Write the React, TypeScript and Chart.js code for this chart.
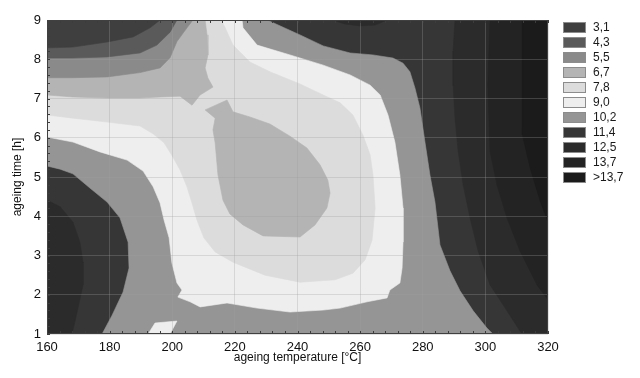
import React, { useEffect, useRef } from 'react';
import { Chart, registerables } from 'chart.js';

Chart.register(...registerables);

// Axis ranges and ticks
const temperatureRange = [160, 320];
const temperatureStep = 20;
const temperatureMinorStep = 4;
const timeRange = [1, 9];
const timeStep = 1;
const timeMinorStep = 0.2;

// Contour levels (legend)
const levelLabels = ['3,1', '4,3', '5,5', '6,7', '7,8', '9,0', '10,2', '11,4', '12,5', '13,7', '>13,7'];
const levelColors = ['#3f3f3f', '#5a5a5a', '#8a8a8a', '#b4b4b4', '#dcdcdc', '#eeeeee', '#959595', '#363636', '#2b2b2b', '#232323', '#1b1b1b'];

// Contour region outlines, [temperature °C, time h]
const wholeField: [number, number][] = [[160, 1], [320, 1], [320, 9], [160, 9]];

const above114Right: [number, number][] = [
  [290.3, 9], [289.7, 8.21], [289.7, 7.34], [290.3, 6.5], [291.3, 5.66], [292.9, 4.8], [295.1, 3.96],
  [297.7, 3.11], [301.5, 2.25], [306.9, 1.59], [311.7, 1], [320, 1], [320, 9],
];
const above114Left: [number, number][] = [
  [160, 4.41], [164.2, 4.24], [168.3, 3.85], [170.5, 3.34], [171.5, 2.83], [171.5, 2.25], [169.9, 1.66], [168.0, 1], [160, 1],
];
const above114Top: [number, number][] = [[251.3, 9], [255.1, 8.9], [259.9, 8.85], [264.7, 8.87], [268.6, 9]];
const above125: [number, number][] = [
  [301.5, 9], [300.8, 7.34], [301.5, 5.66], [303.7, 4.8], [306.9, 3.96], [311.1, 3.11], [316.5, 2.25],
  [320, 1.87], [320, 9],
];
const above137: [number, number][] = [
  [312.0, 9], [311.7, 7.34], [312.0, 6.07], [314.3, 5.23], [317.5, 4.39], [320, 3.85], [320, 9],
];

const below102: [number, number][] = [
  [160, 9], [230.3, 9], [240.8, 8.62], [248.2, 8.34], [256.8, 8.16], [264.1, 8.11], [270.5, 8.03], [273.7, 7.9],
  [275.9, 7.68], [277.5, 7.27], [279.1, 6.76], [280.7, 5.89], [282.3, 5.05], [283.9, 4.36], [285.5, 3.27],
  [288.7, 2.61], [291.9, 2.1], [296.1, 1.59], [300.5, 1.15], [302.4, 1], [177.6, 1], [180.8, 1.48], [184.3, 2.07],
  [186.2, 2.68], [185.9, 3.34], [183.3, 3.96], [179.2, 4.36], [173.7, 4.72], [168.3, 5.08], [164.2, 5.2], [160, 5.28],
];
const below90: [number, number][] = [
  [160, 9], [222.3, 9], [222.6, 8.8], [227.1, 8.36], [237.6, 8.11], [248.2, 7.85], [256.8, 7.6], [263.2, 7.34],
  [266.4, 7.09], [268.9, 6.58], [271.1, 5.89], [272.7, 5.05], [273.7, 4.21], [273.7, 3.34], [273.4, 2.68],
  [272.7, 2.3], [269.5, 2.12], [268.6, 1.92], [262.2, 1.82], [253.6, 1.66], [248.2, 1.61], [237.6, 1.56],
  [227.1, 1.66], [217.5, 1.79], [208.9, 1.69], [205.7, 1.82], [201.8, 1.94], [203.1, 2.12], [201.5, 2.3],
  [199.9, 2.81], [199.0, 3.45], [197.4, 3.9], [196.1, 4.34], [193.9, 4.75], [190.7, 5.15], [185.6, 5.43],
  [176.9, 5.64], [168.3, 5.89], [160, 6.02],
];
const below90Patch: [number, number][] = [[192.3, 1], [194.5, 1.28], [201.5, 1.33], [199.3, 1]];
const below78: [number, number][] = [
  [160, 9], [215.6, 9], [216.9, 8.8], [219.4, 8.36], [224.8, 7.93], [231.2, 7.68], [240.8, 7.37], [248.2, 7.09],
  [253.6, 6.89], [257.7, 6.58], [260.9, 6.07], [263.2, 5.56], [264.1, 5.05], [264.8, 4.21], [263.8, 3.39],
  [261.6, 2.89], [257.7, 2.55], [252.0, 2.38], [240.8, 2.32], [229.6, 2.5], [219.4, 2.83], [213.7, 3.09],
  [210.1, 3.45], [207.9, 3.9], [206.3, 4.34], [204.7, 4.75], [202.5, 5.18], [200.2, 5.51], [197.4, 5.87],
  [193.9, 6.1], [189.7, 6.3], [179.2, 6.4], [168.3, 6.5], [160, 6.58],
];
const below67Left: [number, number][] = [
  [160, 9], [210.5, 9], [211.1, 8.62], [211.4, 8.11], [210.5, 7.78], [211.4, 7.52], [213.0, 7.29], [208.9, 7.09],
  [206.3, 6.83], [202.5, 7.06], [196.1, 7.04], [189.7, 7.01], [179.2, 7.01], [168.3, 7.04], [160, 7.09],
];
const below67Center: [number, number][] = [
  [210.5, 6.71], [217.5, 6.96], [219.4, 6.66], [224.8, 6.53], [231.2, 6.35], [237.6, 6.04], [243.0, 5.74],
  [247.2, 5.31], [249.7, 4.92], [250.4, 4.59], [249.4, 4.21], [245.6, 3.78], [240.8, 3.47], [229.0, 3.5],
  [222.6, 3.78], [218.4, 4.06], [216.2, 4.41], [214.6, 5.05], [213.7, 5.87], [213.0, 6.2], [213.7, 6.5],
];
const below55: [number, number][] = [
  [160, 9], [206.6, 9], [204.7, 8.8], [201.5, 8.45], [199.3, 8.04], [196.1, 7.78], [189.7, 7.66], [179.2, 7.55],
  [168.3, 7.53], [160, 7.53],
];
const below43: [number, number][] = [
  [160, 9], [201.5, 9], [199.3, 8.69], [195.1, 8.36], [189.7, 8.16], [179.2, 8.06], [168.3, 8.03], [160, 8.03],
];
const below31: [number, number][] = [
  [160, 9], [196.1, 9], [192.9, 8.8], [187.5, 8.57], [179.2, 8.44], [168.3, 8.31], [160, 8.29],
];

// painting order (bottom first) with the level index of each region
const layers: { outline: [number, number][]; level: number }[] = [
  { outline: wholeField, level: 7 },
  { outline: above114Right, level: 8 },
  { outline: above114Left, level: 8 },
  { outline: above114Top, level: 8 },
  { outline: above125, level: 9 },
  { outline: above137, level: 10 },
  { outline: below102, level: 6 },
  { outline: below90, level: 5 },
  { outline: below90Patch, level: 5 },
  { outline: below78, level: 4 },
  { outline: below67Left, level: 3 },
  { outline: below67Center, level: 3 },
  { outline: below55, level: 2 },
  { outline: below43, level: 1 },
  { outline: below31, level: 0 },
];

const FONT = "'Liberation Sans', Arial, sans-serif";

const decorations = {
  id: 'decorations',
  afterDraw(chart: any) {
    const { ctx, chartArea: a, scales } = chart;
    const x = scales.x;
    const y = scales.y;
    ctx.save();
    ctx.strokeStyle = '#3c3c3c';
    ctx.lineWidth = 1;
    ctx.beginPath();
    const nx = Math.round((temperatureRange[1] - temperatureRange[0]) / temperatureMinorStep);
    for (let i = 0; i <= nx; i++) {
      const px = Math.round(x.getPixelForValue(temperatureRange[0] + i * temperatureMinorStep)) + 0.5;
      ctx.moveTo(px, a.top);
      ctx.lineTo(px, a.top + 3);
      ctx.moveTo(px, a.bottom);
      ctx.lineTo(px, a.bottom - 3);
    }
    const ny = Math.round((timeRange[1] - timeRange[0]) / timeMinorStep);
    for (let i = 0; i <= ny; i++) {
      const py = Math.round(y.getPixelForValue(timeRange[0] + i * timeMinorStep)) + 0.5;
      ctx.moveTo(a.left, py);
      ctx.lineTo(a.left + 3, py);
    }
    ctx.stroke();
    ctx.strokeStyle = '#404040';
    ctx.strokeRect(a.left + 0.5, a.top + 0.5, a.right - a.left - 1, a.bottom - a.top - 1);

    // legend
    ctx.font = `12px ${FONT}`;
    ctx.textBaseline = 'middle';
    ctx.textAlign = 'left';
    levelLabels.forEach((label, i) => {
      const bx = 563;
      const by = 22 + i * 15;
      ctx.fillStyle = levelColors[i];
      ctx.fillRect(bx, by, 23, 11);
      ctx.strokeStyle = '#8c8c8c';
      ctx.strokeRect(bx + 0.5, by + 0.5, 22, 10);
      ctx.fillStyle = '#1a1a1a';
      ctx.fillText(label, 593, by + 6);
    });
    ctx.restore();
  },
};

export default function App() {
  const ref = useRef<HTMLCanvasElement | null>(null);

  useEffect(() => {
    if (!ref.current) return;
    const datasets = layers
      .slice()
      .reverse()
      .map((l) => {
        const pts = l.outline.map(([t, h]) => ({ x: t, y: h }));
        pts.push({ ...pts[0] });
        return {
          data: pts,
          showLine: true,
          fill: 'shape',
          backgroundColor: levelColors[l.level],
          borderColor: levelColors[l.level],
          borderWidth: 0.6,
          pointRadius: 0,
          pointHoverRadius: 0,
          tension: 0,
        };
      });

    const chart = new Chart(ref.current, {
      type: 'scatter',
      data: { datasets: datasets as any },
      options: {
        animation: false,
        responsive: false,
        events: [],
        layout: { padding: { top: 20, right: 92, left: 0, bottom: 0 } },
        plugins: { legend: { display: false }, tooltip: { enabled: false } },
        scales: {
          x: {
            type: 'linear',
            min: temperatureRange[0],
            max: temperatureRange[1],
            afterFit: (s: any) => {
              s.height = 44;
            },
            ticks: { stepSize: temperatureStep, color: '#111', padding: 6, font: { family: FONT, size: 13 } },
            grid: { color: 'rgba(160,160,160,0.3)', drawTicks: false, lineWidth: 1, z: 1 },
            border: { display: false },
            title: {
              display: true,
              text: 'ageing temperature [°C]',
              color: '#111',
              font: { family: FONT, size: 12 },
              padding: { top: 0, bottom: 13 },
            },
          },
          y: {
            type: 'linear',
            min: timeRange[0],
            max: timeRange[1],
            afterFit: (s: any) => {
              s.width = 47;
            },
            ticks: { stepSize: timeStep, color: '#111', padding: 6, font: { family: FONT, size: 13 } },
            grid: { color: 'rgba(160,160,160,0.3)', drawTicks: false, lineWidth: 1, z: 1 },
            border: { display: false },
            title: {
              display: true,
              text: 'ageing time [h]',
              color: '#111',
              font: { family: FONT, size: 12 },
              padding: { top: 10, bottom: 0 },
            },
          },
        },
      },
      plugins: [decorations],
    });
    return () => chart.destroy();
  }, []);

  return (
    <div style={{ position: 'absolute', left: 0, top: 0, width: 640, height: 378 }}>
      <canvas ref={ref} width={640} height={378} style={{ display: 'block' }} />
    </div>
  );
}
